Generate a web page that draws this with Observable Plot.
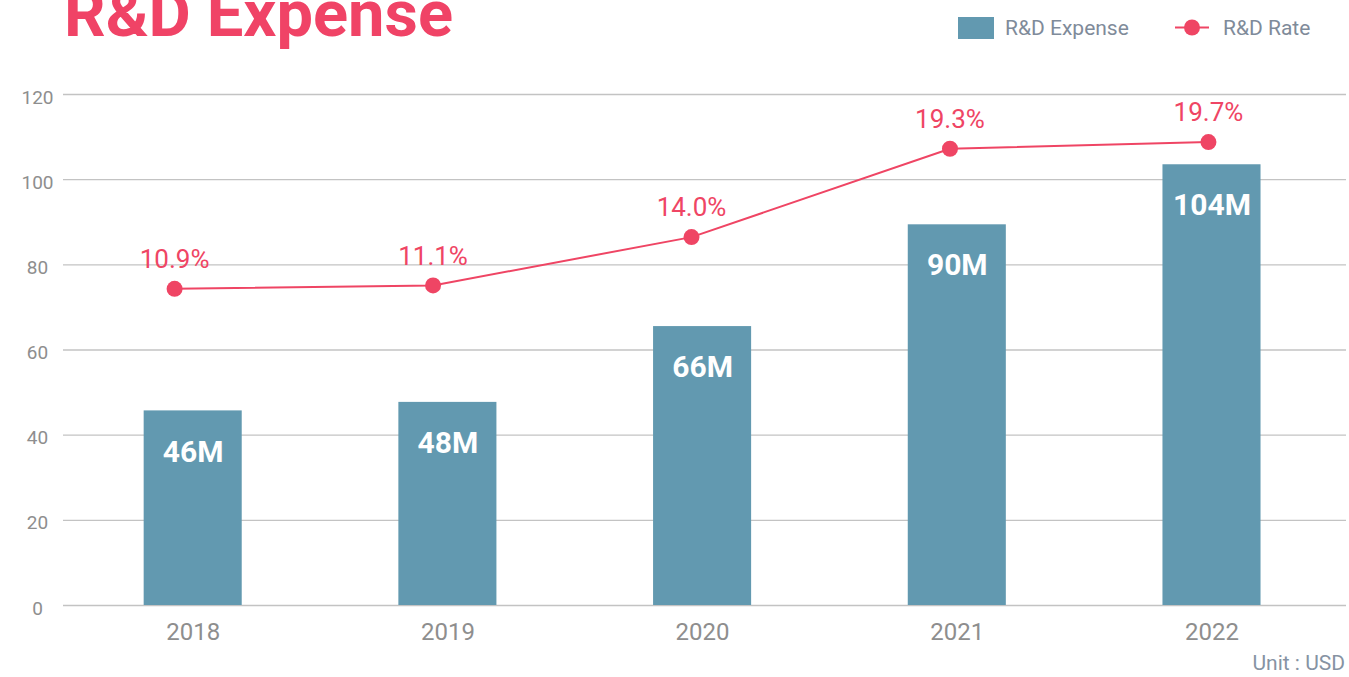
<!DOCTYPE html>
<html>
<head>
<meta charset="utf-8">
<script src="https://cdn.jsdelivr.net/npm/d3@7"></script>
<script src="https://cdn.jsdelivr.net/npm/@observablehq/plot@0.6"></script>
<style>
  html, body { margin: 0; padding: 0; background: #ffffff; }
  body { width: 1349px; height: 677px; overflow: hidden; font-family: Roboto, "Noto Sans", sans-serif; }
  #wrap { position: relative; width: 1349px; height: 677px; }
  #header { position: absolute; left: 0; top: 0; }
  #chart { position: absolute; left: 0; top: 60px; }
  #unit { position: absolute; right: 4px; top: 651px; font-size: 21px; color: #8693a3; line-height: 24px; }
</style>
</head>
<body>
<div id="wrap">
  <svg id="header" width="1349" height="60"></svg>
  <div id="chart"></div>
  <div id="unit">Unit : USD</div>
</div>
<script>
// ---- data ----
const years = [2018, 2019, 2020, 2021, 2022];
const expense = [45.7, 47.7, 65.5, 89.4, 103.5];          // million USD (bar heights)
const expenseLabels = ["46M", "48M", "66M", "90M", "104M"];
const rate = [10.9, 11.1, 14.0, 19.3, 19.7];              // % R&D rate
const yTicks = [0, 20, 40, 60, 80, 100, 120];

const titleText = "R&D Expense";
const legendExpense = "R&D Expense";
const legendRate = "R&D Rate";

// ---- styles ----
const BAR = "#6299b0";
const PINK = "#ef4564";
const TITLE = "#f04366";
const GRID = "#c3c3c3";
const AXIS = "#8e8e8e";
const LEGEND_TEXT = "#7f8b9a";

const data = years.map((year, i) => ({year, expense: expense[i], label: expenseLabels[i], rate: rate[i]}));

// secondary scales for the rate series (its own axis, as in the original dual-axis chart)
const rateY = d3.scaleLinear().domain([0, 20]).range([31.7, 110.0]);
const rateX = d3.scaleLinear().domain([2018, 2022]).range([2017.927, 2021.986]);
const halfBar = 0.1925;

// ---- header (title + legend) ----
const header = d3.select("#header");
header.append("text")
  .attr("x", 64).attr("y", 36)
  .attr("font-family", "Roboto, sans-serif")
  .attr("font-weight", 700)
  .attr("font-size", 65)
  .attr("fill", TITLE)
  .text(titleText);

header.append("rect").attr("x", 958).attr("y", 17).attr("width", 36).attr("height", 22).attr("fill", BAR);
header.append("text").attr("x", 1005).attr("y", 35)
  .attr("font-family", "Roboto, sans-serif").attr("font-size", 21).attr("fill", LEGEND_TEXT)
  .text(legendExpense);
header.append("line").attr("x1", 1175).attr("x2", 1209).attr("y1", 27.5).attr("y2", 27.5)
  .attr("stroke", PINK).attr("stroke-width", 2);
header.append("circle").attr("cx", 1192).attr("cy", 27.5).attr("r", 8).attr("fill", PINK);
header.append("text").attr("x", 1223).attr("y", 35)
  .attr("font-family", "Roboto, sans-serif").attr("font-size", 21).attr("fill", LEGEND_TEXT)
  .text(legendRate);

// ---- chart ----
const chart = Plot.plot({
  width: 1349,
  height: 617,
  marginTop: 34,
  marginBottom: 72,
  marginLeft: 63,
  marginRight: 3,
  style: { fontFamily: "Roboto, sans-serif", background: "transparent", overflow: "visible" },
  x: { type: "linear", domain: [2017.4908, 2022.5281] },
  y: { domain: [0, 120] },
  marks: [
    Plot.ruleY(yTicks, { stroke: GRID, strokeWidth: 1.3 }),
    Plot.axisY({
      ticks: yTicks, tickSize: 0, tickPadding: 26, textAnchor: "middle",
      fontSize: 19, fill: AXIS, dy: 3, tickFormat: d => String(d), label: null
    }),
    Plot.axisX({
      ticks: years, tickSize: 0, tickPadding: 17, fontSize: 24, fill: AXIS,
      tickFormat: d => String(d), label: null
    }),
    Plot.rectY(data, {
      x1: d => d.year - halfBar, x2: d => d.year + halfBar, y1: 0, y2: "expense", fill: BAR
    }),
    Plot.text(data, {
      x: "year", y: "expense", text: "label", dy: 41, fill: "#ffffff",
      fontSize: 30, fontWeight: 700, textAnchor: "middle"
    }),
    Plot.line(data, {
      x: d => rateX(d.year), y: d => rateY(d.rate), stroke: PINK, strokeWidth: 2
    }),
    Plot.dot(data, {
      x: d => rateX(d.year), y: d => rateY(d.rate), r: 8, fill: PINK, stroke: "none"
    }),
    Plot.text(data, {
      x: d => rateX(d.year), y: d => rateY(d.rate), text: d => d.rate.toFixed(1) + "%",
      dy: -29, fill: PINK, fontSize: 26, textAnchor: "middle"
    })
  ]
});
document.getElementById("chart").appendChild(chart);
</script>
</body>
</html>
